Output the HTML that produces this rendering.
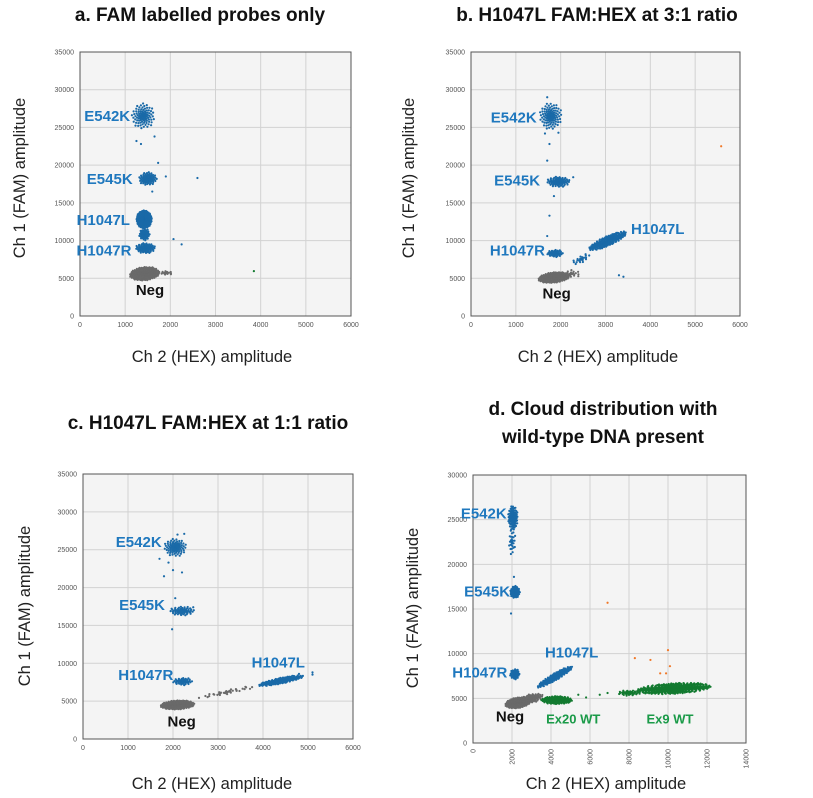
<!DOCTYPE html>
<html><head><meta charset="utf-8">
<style>
body{margin:0;background:#fff;}
svg{display:block;font-family:"Liberation Sans",Arial,sans-serif;}
.title{font-size:19px;font-weight:bold;fill:#111;}
.axt{font-size:16.5px;fill:#222;}
.tick{font-size:7px;fill:#555;}
.lab{font-size:15px;font-weight:bold;}
</style></head>
<body>
<svg id="fig" width="813" height="798" viewBox="0 0 813 798" xmlns="http://www.w3.org/2000/svg">
<text class="title" x="200" y="21" text-anchor="middle">a.  FAM labelled probes only</text>
<text class="title" x="597" y="21" text-anchor="middle">b. H1047L FAM:HEX at 3:1 ratio</text>
<text class="title" x="208" y="429" text-anchor="middle">c. H1047L FAM:HEX at 1:1 ratio</text>
<text class="title" x="603" y="415" text-anchor="middle">d. Cloud distribution with</text>
<text class="title" x="603" y="443" text-anchor="middle">wild-type DNA present</text>
</svg>
<script>
// ---- Panel data (cluster: [x, y, halfSpanX, halfThicknessY, slope, count]) ----
const panelA_ranges = [6000, 35000];
const panelA_clusters_blue = [[1400,26500,260,1700,0,110],[1500,18200,200,900,0,90],[1420,12800,170,1200,0,400],[1430,10800,120,800,0,60],[1450,9000,220,700,0,100]];
const panelA_clusters_grey = [[1430,5600,330,900,0.5,350],[1900,5700,170,250,0,20]];
const panelA_points_blue = [[1250,23200],[1350,22800],[1650,23800],[1730,20300],[1900,18500],[2600,18300],[1600,16500],[2070,10200],[2250,9500]];
const panelA_points_green = [[3850,5950]];
const panelA_points_orange = [];
const panelA_clusters_green = [];

const panelB_ranges = [6000, 35000];
const panelB_clusters_blue = [[1780,26500,250,1800,0,120],[1950,17800,260,700,0,100],[1880,8300,180,500,0,60],[3050,9950,420,700,2.5,320],[2450,7500,220,500,2.5,25]];
const panelB_clusters_grey = [[1850,5100,350,700,0.6,350],[2250,5600,220,500,0,20]];
const panelB_points_blue = [[1700,29000],[1650,24200],[1950,24300],[1750,22800],[1700,20600],[2280,18400],[1850,15900],[1750,13300],[1700,10600],[3300,5400],[3400,5200]];
const panelB_points_green = [];
const panelB_points_orange = [[5580,22500]];
const panelB_clusters_green = [];

const panelC_ranges = [6000, 35000];
const panelC_clusters_blue = [[2050,25300,250,1200,0,100],[2200,16900,280,600,0,80],[2220,7600,220,500,0,60],[4400,7700,500,400,1.2,260]];
const panelC_clusters_grey = [[2100,4500,380,600,0.3,350],[3200,6200,650,300,1.2,40]];
const panelC_points_blue = [[1800,21500],[2000,22300],[2200,22000],[1700,23800],[1900,23300],[2100,27000],[2250,27100],[2050,18600],[2450,17400],[1980,14500],[5100,8500],[5100,8800],[4800,8600]];
const panelC_points_green = [];
const panelC_points_orange = [];
const panelC_clusters_green = [];

const panelD_ranges = [14000, 30000];
const panelD_clusters_blue = [[2050,25200,250,1400,0,120],[2000,22500,180,1500,0,30],[2150,16900,250,700,0,90],[2150,7700,250,600,0,60],[4200,7400,900,450,1.23,260]];
const panelD_clusters_grey = [[2300,4500,650,600,0.3,350],[3000,5000,600,500,0.4,100]];
const panelD_clusters_green = [[4300,4800,800,450,0,220],[10300,6100,1900,600,0.12,560],[8000,5600,600,300,0,50]];
const panelD_points_blue = [[2100,18600],[1950,14500]];
const panelD_points_green = [[5800,5100],[6500,5400],[6900,5600],[5400,5400]];
const panelD_points_orange = [[6900,15700],[8300,9500],[9100,9300],[10000,10400],[10100,8600],[9600,7800],[9900,7800]];

// labels: [text, x, y, anchor, color]
const panelA_labels = [["E542K",1110,26500,"end","b"],["E545K",1166,18160,"end","b"],["H1047L",1106,12730,"end","b"],["H1047R",1140,8660,"end","b"],["Neg",1550,3450,"middle","k"]];
const panelB_labels = [["E542K",1465,26340,"end","b"],["E545K",1540,17940,"end","b"],["H1047L",3570,11530,"start","b"],["H1047R",1650,8660,"end","b"],["Neg",1910,3000,"middle","k"]];
const panelC_labels = [["E542K",1748,26000,"end","b"],["E545K",1822,17700,"end","b"],["H1047R",2007,8450,"end","b"],["H1047L",4933,10080,"end","b"],["Neg",2193,2290,"middle","k"]];
const panelD_labels = [["E542K",1728,25710,"end","b"],["E545K",1900,16940,"end","b"],["H1047R",1760,7870,"end","b"],["H1047L",3690,10150,"start","b"],["Neg",1900,2940,"middle","k"],["Ex20 WT",5140,2760,"middle","g"],["Ex9 WT",10100,2760,"middle","g"]];

const NS="http://www.w3.org/2000/svg";
const svg=document.getElementById('fig');
const COL={b:"#1a6aa8",g:"#1a9a48",k:"#111",grey:"#6a6a6a",green:"#137a30",orange:"#f07828",lb:"#1f78be"};
function mk(tag,attrs,parent){const e=document.createElementNS(NS,tag);for(const k in attrs)e.setAttribute(k,attrs[k]);(parent||svg).appendChild(e);return e;}

function panel(id,box,ranges,xstep,ystep,rotX,cb,cg,cgr,pb,pg,po,labels,ytitle,xtitle){
  const [x0,y0,x1,y1]=box;
  const g=mk('g',{});
  
  
  const sx=v=>x0+v/ranges[0]*(x1-x0);
  const sy=v=>y1-v/ranges[1]*(y1-y0);
  const bg=mk('rect',{x:x0,y:y0,width:x1-x0,height:y1-y0,fill:"#f4f4f4"},g);
  
  
  for(let v=0;v<=ranges[0];v+=xstep){
    if(v>0&&v<ranges[0])mk('line',{x1:sx(v),x2:sx(v),y1:y0,y2:y1,stroke:"#d2d2d2","stroke-width":1},g);
    let t;
    if(rotX){t=mk('text',{class:'tick',x:sx(v)+2.5,y:y1+6,'text-anchor':'end',transform:`rotate(-90 ${sx(v)+2.5} ${y1+6})`},g);}
    else t=mk('text',{class:'tick',x:sx(v),y:y1+11,'text-anchor':'middle'},g);
    t.textContent=v;
    
    
  }
  for(let v=0;v<=ranges[1];v+=ystep){
    if(v>0&&v<ranges[1])mk('line',{x1:x0,x2:x1,y1:sy(v),y2:sy(v),stroke:"#d2d2d2","stroke-width":1},g);
    const t=mk('text',{class:'tick',x:x0-6,y:sy(v)+2.5,'text-anchor':'end'},g);
    t.textContent=v;
    
    
  }
  const fr=mk('rect',{x:x0,y:y0,width:x1-x0,height:y1-y0,fill:"none",stroke:"#555","stroke-width":1},g);
  
  
  function cloud(list,color,name){
    list.forEach(c=>{
      const [cx,cy,rx,ry,sl,n]=c;
      const cg2=mk('g',{fill:color},g);
      
      
      for(let i=0;i<n;i++){
        const r=(i+0.5)/n,th=i*2.39996;
        const u=r*Math.cos(th),w=r*Math.sin(th);
        const dx=cx+u*rx, dy=cy+u*rx*sl+w*ry;
        mk('circle',{cx:sx(dx).toFixed(1),cy:sy(dy).toFixed(1),r:1.1},cg2);
      }
    });
  }
  function pts(list,color,name){
    list.forEach(p=>{
      const c=mk('circle',{cx:sx(p[0]),cy:sy(p[1]),r:1.1,fill:color},g);
      
      
    });
  }
  cloud(cgr,COL.grey,'negative');
  cloud(cg,COL.green,'wild-type');
  cloud(cb,COL.b,'mutant');
  pts(pb,COL.b,'mutant-outlier');
  pts(pg,COL.green,'wild-type-outlier');
  pts(po,COL.orange,'double-positive-outlier');
  labels.forEach(l=>{
    const col=l[4]==='b'?COL.lb:(l[4]==='g'?COL.g:COL.k);
    const t=mk('text',{class:'lab',x:sx(l[1]),y:sy(l[2])+5,'text-anchor':l[3],fill:col},g);
    if(l[4]==='g')t.setAttribute('style','font-size:13px');
    t.textContent=l[0];
    
    
  });
  const yt=mk('text',{class:'axt',x:ytitle[0],y:ytitle[1],'text-anchor':'middle',transform:`rotate(-90 ${ytitle[0]} ${ytitle[1]})`},g);
  yt.textContent="Ch 1 (FAM) amplitude";
  
  
  const xt=mk('text',{class:'axt',x:xtitle[0],y:xtitle[1],'text-anchor':'middle'},g);
  xt.textContent="Ch 2 (HEX) amplitude";
  
  
}
panel('a',[80,52,351,316],panelA_ranges,1000,5000,false,panelA_clusters_blue,panelA_clusters_green,panelA_clusters_grey,panelA_points_blue,panelA_points_green,panelA_points_orange,panelA_labels,[25,178],[212,362]);
panel('b',[471,52,740,316],panelB_ranges,1000,5000,false,panelB_clusters_blue,panelB_clusters_green,panelB_clusters_grey,panelB_points_blue,panelB_points_green,panelB_points_orange,panelB_labels,[414,178],[598,362]);
panel('c',[83,474,353,739],panelC_ranges,1000,5000,false,panelC_clusters_blue,panelC_clusters_green,panelC_clusters_grey,panelC_points_blue,panelC_points_green,panelC_points_orange,panelC_labels,[30,606],[212,789]);
panel('d',[473,475,746,743],panelD_ranges,2000,5000,true,panelD_clusters_blue,panelD_clusters_green,panelD_clusters_grey,panelD_points_blue,panelD_points_green,panelD_points_orange,panelD_labels,[418,608],[606,789]);
</script>
</body></html>
